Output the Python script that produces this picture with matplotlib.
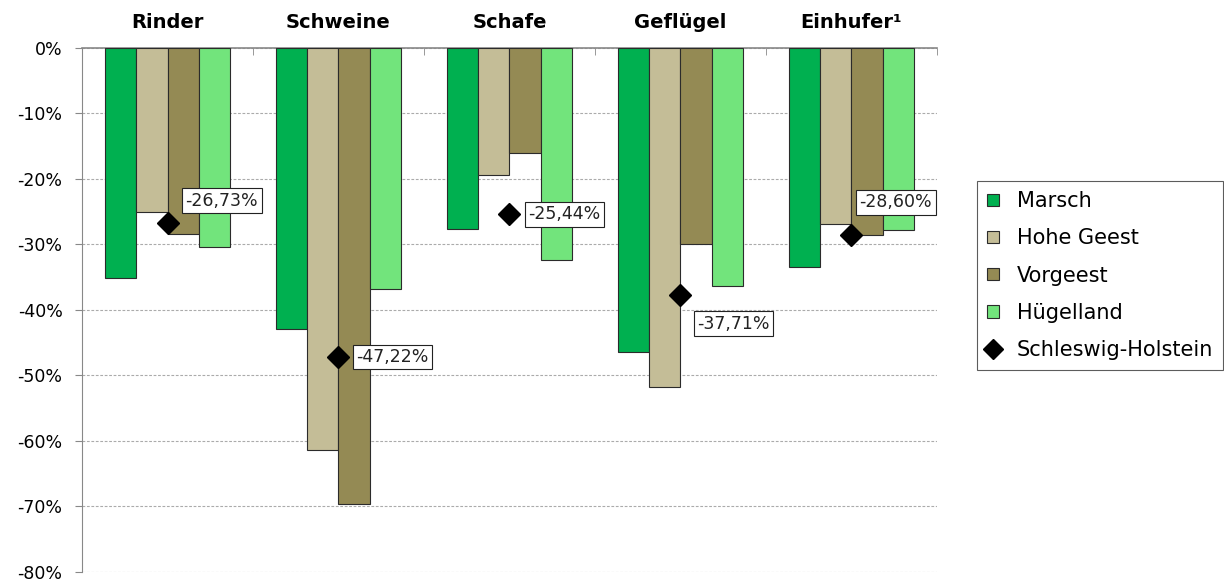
import matplotlib.pyplot as plt
import numpy as np

plt.rcParams['font.family'] = ['DejaVu Sans']

categories = ['Rinder', 'Schweine', 'Schafe', 'Geflügel', 'Einhufer¹']
regions = ['Marsch', 'Hohe Geest', 'Vorgeest', 'Hügelland']
marsch = [-35.2, -43.0, -27.7, -46.4, -33.5]
hohe_geest = [-25.1, -61.4, -19.5, -51.8, -26.9]
vorgeest = [-28.5, -69.6, -16.0, -30.0, -28.6]
huegelland = [-30.4, -36.9, -32.4, -36.4, -27.9]
sh = [-26.73, -47.22, -25.44, -37.71, -28.60]

colors = ['#00B050', '#C4BD97', '#948A54', '#72E47C']
# label box offsets (pixels) relative to the diamond
offsets = [(18, 22), (18, 0), (19, 0), (17, -29), (8, 33)]

fig = plt.figure(figsize=(12.24, 5.82), dpi=100)
ax = fig.add_axes([0.067, 0.0177, 0.6985, 0.9003])

x = np.arange(len(categories))
w = 0.182
series = [marsch, hohe_geest, vorgeest, huegelland]
handles = []
for j, (vals, name) in enumerate(zip(series, regions)):
    b = ax.bar(x + (j - 1.5) * w, vals, width=w, color=colors[j], edgecolor='#2b2b2b',
               linewidth=0.8, label=name, zorder=3)
    handles.append(b)

ln, = ax.plot(x, sh, linestyle='none', marker='D', markersize=11, color='black',
              label='Schleswig-Holstein', zorder=5)
handles.append(ln)

for i, v in enumerate(sh):
    dx, dy = offsets[i]
    txt = ('%.2f%%' % v).replace('.', ',')
    ax.annotate(txt, (x[i], v), xytext=(dx, dy), textcoords='offset pixels',
                ha='left', va='center', fontsize=12.5, color='#222222', zorder=6,
                bbox=dict(boxstyle='square,pad=0.2', fc='white', ec='#222222', lw=0.8))

ax.set_xlim(-0.5, 4.5)
ax.set_ylim(-80, 0)
ax.set_yticks(np.arange(-80, 1, 10))
ax.set_yticklabels(['%d%%' % t for t in np.arange(-80, 1, 10)], fontsize=12.5)
ax.tick_params(axis='y', length=5, color='#888888', pad=9)

ax.xaxis.tick_top()
ax.set_xticks(x)
ax.set_xticklabels(categories, fontsize=14, fontweight='bold')
ax.tick_params(axis='x', which='major', length=0, pad=11)
ax.set_xticks(list(x[1:] - 0.5) + [4.5], minor=True)
ax.tick_params(axis='x', which='minor', direction='in', length=5, color='#888888', top=True)

ax.yaxis.grid(True, linestyle=(0, (2.5, 1.5)), color='#ABABAB', linewidth=0.8, zorder=0)
ax.set_axisbelow(True)
for s in ['right', 'bottom']:
    ax.spines[s].set_visible(False)
ax.spines['left'].set_color('#888888')
ax.spines['top'].set_color('#888888')
ax.spines['top'].set_linewidth(1.2)

leg = fig.legend(handles, regions + ['Schleswig-Holstein'], loc='upper left',
                 bbox_to_anchor=(977 / 1224, 1 - 181 / 582),
                 fontsize=15, frameon=True, fancybox=False, edgecolor='#333333',
                 handlelength=0.55, handleheight=0.55, handletextpad=0.85,
                 labelspacing=0.82, borderpad=0.5, borderaxespad=0)
leg.get_frame().set_linewidth(0.8)
leg.legend_handles[4].set_markersize(10)

fig.savefig('out.png', dpi=100)
